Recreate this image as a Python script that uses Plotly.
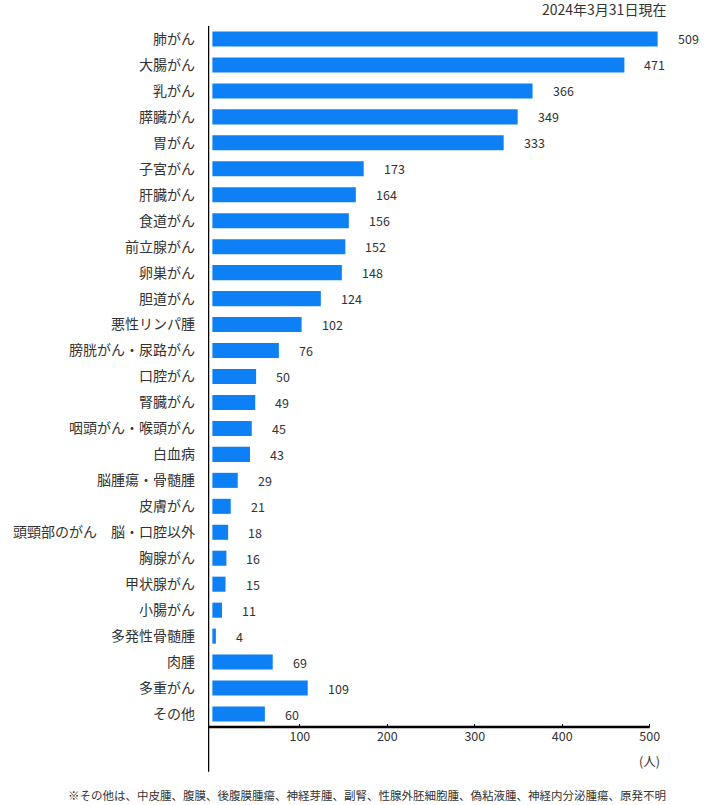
import plotly.graph_objects as go

categories = [
    "肺がん", "大腸がん", "乳がん", "膵臓がん", "胃がん", "子宮がん", "肝臓がん",
    "食道がん", "前立腺がん", "卵巣がん", "胆道がん", "悪性リンパ腫",
    "膀胱がん・尿路がん", "口腔がん", "腎臓がん", "咽頭がん・喉頭がん", "白血病",
    "脳腫瘍・骨髄腫", "皮膚がん", "頭頸部のがん　脳・口腔以外", "胸腺がん",
    "甲状腺がん", "小腸がん", "多発性骨髄腫", "肉腫", "多重がん", "その他",
]
patients = [509, 471, 366, 349, 333, 173, 164, 156, 152, 148, 124, 102,
            76, 50, 49, 45, 43, 29, 21, 18, 16, 15, 11, 4, 69, 109, 60]
tick_values = [100, 200, 300, 400, 500]

FONT = "Noto Sans CJK JP, Meiryo, sans-serif"
TEXT = "#333333"
BAR = "#0c80f4"

fig = go.Figure()
fig.add_trace(go.Bar(
    x=patients, y=categories, orientation="h",
    marker={"color": BAR, "line": {"width": 0}},
    width=0.58, hoverinfo="x+y",
))

# value labels sit a bit to the right of each bar end
for cat, val in zip(categories, patients):
    fig.add_annotation(
        x=val, y=cat, text=str(val), showarrow=False,
        xanchor="left", xshift=18,
        font={"size": 12.5, "color": TEXT, "family": FONT},
    )

# axis lines drawn by hand so the y line runs past the x axis
fig.add_shape(type="line", xref="x", yref="paper", x0=-5, x1=-5, y0=-0.064, y1=1.0,
              line={"color": "black", "width": 2.5})
fig.add_shape(type="line", xref="x", yref="paper", x0=-5, x1=500, y0=0, y1=0,
              line={"color": "black", "width": 2.5})

fig.add_annotation(xref="paper", yref="paper", x=1.0, y=1.0, xanchor="right",
                   yanchor="bottom", yshift=5, xshift=-8, text="2024年3月31日現在",
                   showarrow=False, font={"size": 14, "color": TEXT, "family": FONT})
fig.add_annotation(xref="x", yref="paper", x=500, y=0, yanchor="top", yshift=-22,
                   text="(人)", showarrow=False,
                   font={"size": 12.5, "color": TEXT, "family": FONT})
fig.add_annotation(xref="paper", yref="paper", x=0.34, y=0, xanchor="center",
                   yanchor="top", yshift=-58,
                   text="※その他は、中皮腫、腹膜、後腹膜腫瘍、神経芽腫、副腎、性腺外胚細胞腫、偽粘液腫、神経内分泌腫瘍、原発不明",
                   showarrow=False, font={"size": 11.5, "color": TEXT, "family": FONT})

fig.update_layout(
    width=707, height=805,
    margin={"l": 208, "r": 31, "t": 26, "b": 78},
    plot_bgcolor="white", paper_bgcolor="white",
    showlegend=False, bargap=0.42,
    font={"family": FONT, "color": TEXT},
)
fig.update_xaxes(
    range=[-5, 530], tickvals=tick_values, showgrid=False, zeroline=False,
    showline=False, ticks="inside", ticklen=3, tickcolor="black",
    tickfont={"size": 12.5, "color": TEXT},
)
fig.update_yaxes(
    autorange="reversed", showgrid=False, zeroline=False, showline=False,
    ticks="", ticklabelstandoff=12, tickfont={"size": 14, "color": TEXT},
)

# page body margin would push the figure 8px off, so drop it
fig.write_html("out.html", config={"displayModeBar": False},
               post_script="document.body.style.margin='0';")
